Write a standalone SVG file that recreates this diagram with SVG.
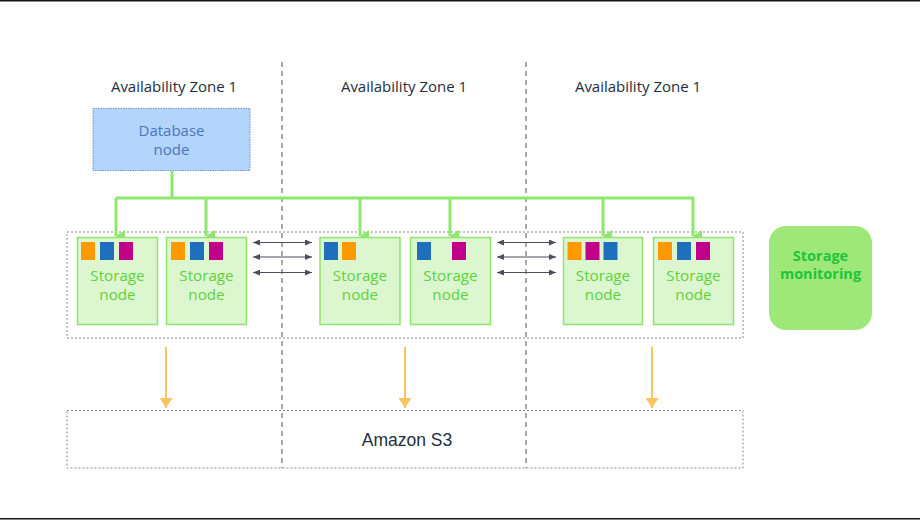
<svg xmlns="http://www.w3.org/2000/svg" width="920" height="520" viewBox="0 0 920 520">
<defs>
<style>
.zone{font-family:"Open Sans","Liberation Sans",sans-serif;font-size:15px;fill:#232f3e;text-anchor:middle}
.sn rect.box{fill:#dcf7cf;stroke:#8ee46c;stroke-width:1.5}
.sn text{font-family:"Open Sans","Noto Sans",sans-serif;font-size:15.2px;fill:#5fd23c;text-anchor:middle}
.o{fill:#ff9900}.b{fill:#1f6fbf}.m{fill:#c0008a}
.dot{fill:none;stroke:#8a8a8a;stroke-width:1;stroke-dasharray:2 2}
.div{stroke:#7b7b82;stroke-width:1.3;stroke-dasharray:5 4}
.bus{fill:none;stroke:#8ee86c;stroke-width:3}
.rep{stroke:#4b4f5c;stroke-width:1.2}
.s3{stroke:#fbc45f;stroke-width:2}
</style>
<marker id="ag" viewBox="0 0 10 10" refX="5" refY="10" markerWidth="12" markerHeight="9" markerUnits="userSpaceOnUse" orient="auto-start-reverse" preserveAspectRatio="none">
<path d="M0,0 L10,0 L5,10 Z" fill="#8ee86c"/>
</marker>
<marker id="ay" viewBox="0 0 10 10" refX="5" refY="10" markerWidth="13" markerHeight="10" markerUnits="userSpaceOnUse" preserveAspectRatio="none">
<path d="M0,0 L10,0 L5,10 Z" fill="#fbc45f"/>
</marker>
<marker id="ad" viewBox="0 0 10 10" refX="10" refY="5" markerWidth="7" markerHeight="6" markerUnits="userSpaceOnUse" orient="auto-start-reverse" preserveAspectRatio="none">
<path d="M0,0 L10,5 L0,10 Z" fill="#4b4f5c"/>
</marker>
</defs>
<rect x="0" y="0" width="920" height="520" fill="#ffffff"/>
<line x1="0" y1="0.75" x2="920" y2="0.75" stroke="#161616" stroke-width="1.5"/>
<line x1="0" y1="518.75" x2="920" y2="518.75" stroke="#161616" stroke-width="1.5"/>

<g id="zones">
<line class="div" x1="282" y1="62" x2="282" y2="468"/>
<line class="div" x1="526" y1="62" x2="526" y2="468"/>
<text class="zone" x="174" y="92">Availability Zone 1</text>
<text class="zone" x="404" y="92">Availability Zone 1</text>
<text class="zone" x="638" y="92">Availability Zone 1</text>
</g>

<g id="storage-group">
<rect class="dot" x="67" y="232" width="676" height="106"/>
</g>

<g id="database-node">
<rect x="93" y="108.5" width="157" height="62" fill="#b4d5fb" stroke="#6e93cc" stroke-width="1" stroke-dasharray="1.5 1"/>
<text font-family="Open Sans, Noto Sans, sans-serif" font-size="15px" fill="#4a74bf" text-anchor="middle"><tspan x="171.5" y="135.5">Database</tspan><tspan x="171.5" y="154.5">node</tspan></text>
</g>

<g id="connectors">
<path class="bus" d="M172,171 V198 M116,198 H694"/>
<line class="bus" x1="116" y1="198" x2="116" y2="236" marker-end="url(#ag)"/>
<line class="bus" x1="206" y1="198" x2="206" y2="236" marker-end="url(#ag)"/>
<line class="bus" x1="360" y1="198" x2="360" y2="236" marker-end="url(#ag)"/>
<line class="bus" x1="450" y1="198" x2="450" y2="236" marker-end="url(#ag)"/>
<line class="bus" x1="603" y1="198" x2="603" y2="236" marker-end="url(#ag)"/>
<line class="bus" x1="693" y1="198" x2="693" y2="236" marker-end="url(#ag)"/>
<line class="rep" x1="253" y1="242.5" x2="312" y2="242.5" marker-start="url(#ad)" marker-end="url(#ad)"/>
<line class="rep" x1="253" y1="257" x2="312" y2="257" marker-start="url(#ad)" marker-end="url(#ad)"/>
<line class="rep" x1="253" y1="272.5" x2="312" y2="272.5" marker-start="url(#ad)" marker-end="url(#ad)"/>
<line class="rep" x1="497" y1="242.5" x2="556" y2="242.5" marker-start="url(#ad)" marker-end="url(#ad)"/>
<line class="rep" x1="497" y1="257" x2="556" y2="257" marker-start="url(#ad)" marker-end="url(#ad)"/>
<line class="rep" x1="497" y1="272.5" x2="556" y2="272.5" marker-start="url(#ad)" marker-end="url(#ad)"/>
<line class="s3" x1="166" y1="347" x2="166" y2="408" marker-end="url(#ay)"/>
<line class="s3" x1="405" y1="347" x2="405" y2="408" marker-end="url(#ay)"/>
<line class="s3" x1="652" y1="347" x2="652" y2="408" marker-end="url(#ay)"/>
</g>

<g id="storage-node-1" class="sn">
<rect class="box" x="77.5" y="237.5" width="80" height="87"/>
<rect class="o" x="81" y="242" width="14" height="18"/><rect class="b" x="100" y="242" width="14" height="18"/><rect class="m" x="119" y="242" width="14" height="18"/>
<text><tspan x="117.5" y="280.5">Storage</tspan><tspan x="117.5" y="299.5">node</tspan></text>
</g>
<g id="storage-node-2" class="sn">
<rect class="box" x="166.5" y="237.5" width="80" height="87"/>
<rect class="o" x="171" y="242" width="14" height="18"/><rect class="b" x="190" y="242" width="14" height="18"/><rect class="m" x="209" y="242" width="14" height="18"/>
<text><tspan x="206.5" y="280.5">Storage</tspan><tspan x="206.5" y="299.5">node</tspan></text>
</g>
<g id="storage-node-3" class="sn">
<rect class="box" x="320" y="237.5" width="80" height="87"/>
<rect class="b" x="324" y="242" width="14" height="18"/><rect class="o" x="342" y="242" width="14" height="18"/>
<text><tspan x="360" y="280.5">Storage</tspan><tspan x="360" y="299.5">node</tspan></text>
</g>
<g id="storage-node-4" class="sn">
<rect class="box" x="410.5" y="237.5" width="80" height="87"/>
<rect class="b" x="417" y="242" width="14" height="18"/><rect class="m" x="452" y="242" width="14" height="18"/>
<text><tspan x="450.5" y="280.5">Storage</tspan><tspan x="450.5" y="299.5">node</tspan></text>
</g>
<g id="storage-node-5" class="sn">
<rect class="box" x="563.5" y="237.5" width="79" height="87"/>
<rect class="o" x="567.5" y="242" width="14" height="18"/><rect class="m" x="585.5" y="242" width="14" height="18"/><rect class="b" x="603.5" y="242" width="14" height="18"/>
<text><tspan x="603" y="280.5">Storage</tspan><tspan x="603" y="299.5">node</tspan></text>
</g>
<g id="storage-node-6" class="sn">
<rect class="box" x="653.5" y="237.5" width="80" height="87"/>
<rect class="o" x="658" y="242" width="14" height="18"/><rect class="b" x="677" y="242" width="14" height="18"/><rect class="m" x="696" y="242" width="14" height="18"/>
<text><tspan x="693.5" y="280.5">Storage</tspan><tspan x="693.5" y="299.5">node</tspan></text>
</g>

<g id="storage-monitoring">
<rect x="769" y="226" width="103" height="104" rx="17" fill="#9de878"/>
<text font-family="Open Sans, Noto Sans, sans-serif" font-size="14.5px" font-weight="bold" fill="#1fc43a" text-anchor="middle"><tspan x="820.5" y="261">Storage</tspan><tspan x="820.5" y="279">monitoring</tspan></text>
</g>

<g id="amazon-s3">
<rect class="dot" x="67" y="410.5" width="676" height="57.5"/>
<text x="407" y="446" font-family="Liberation Sans, Arial, sans-serif" font-size="17.5px" fill="#232f3e" text-anchor="middle">Amazon S3</text>
</g>
</svg>
